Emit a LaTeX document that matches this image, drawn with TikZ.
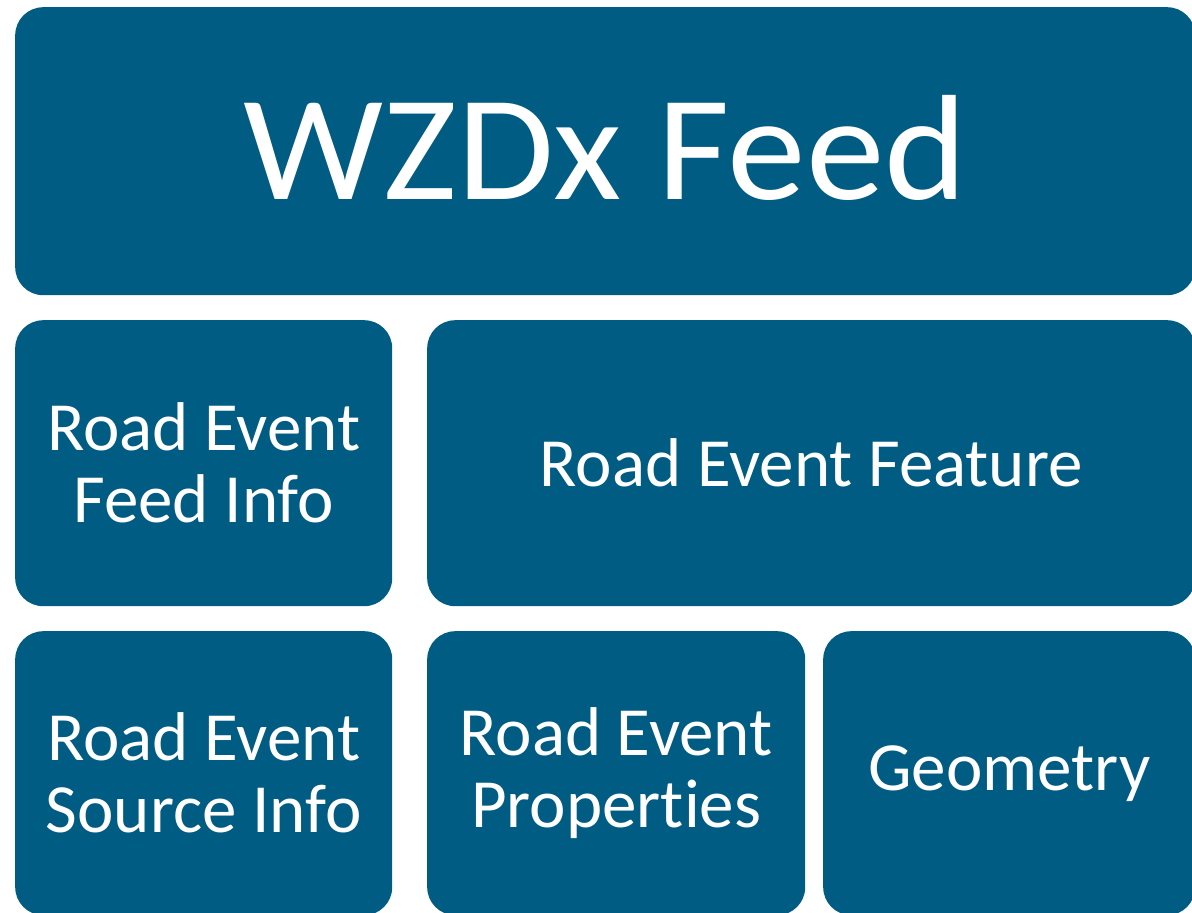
\documentclass[tikz,border=0pt]{standalone}
\usepackage{fontspec}
\setmainfont{Carlito}[Ligatures={NoCommon,NoContextual}]
\newfontfamily\titlefont{Carlito}[FakeStretch=1.05]
\definecolor{wzdxblue}{RGB}{0,92,130}
\tikzset{
  block/.style={fill=wzdxblue, rounded corners=28pt, text=white, align=center,
    anchor=north west, inner sep=0pt, font=\fontsize{69}{72}\selectfont},
}
\begin{document}
\begin{tikzpicture}[x=1pt,y=-1pt]
      \useasboundingbox (0,0) rectangle (1192,913);
      \clip (0,0) rectangle (1192,913);
      \node[block, minimum width=1180pt, minimum height=288pt,
        font=\titlefont\fontsize{150}{150}\selectfont] (feed) at (15,7) {\raisebox{7pt}{WZDx Feed}};
      \node[block, minimum width=377pt, minimum height=286pt] (feedinfo) at (15,320) {Road Event\\Feed Info};
      \node[block, minimum width=768pt, minimum height=286pt] (feature) at (427,320) {Road Event Feature};
      \node[block, minimum width=377pt, minimum height=284pt] (sourceinfo) at (15,631) {Road Event\\Source Info};
      \node[block, minimum width=378pt, minimum height=284pt] (properties) at (427,631) {Road Event\\Properties};
      \node[block, minimum width=372pt, minimum height=284pt] (geometry) at (823,631) {Geometry};
    \end{tikzpicture}
\end{document}
